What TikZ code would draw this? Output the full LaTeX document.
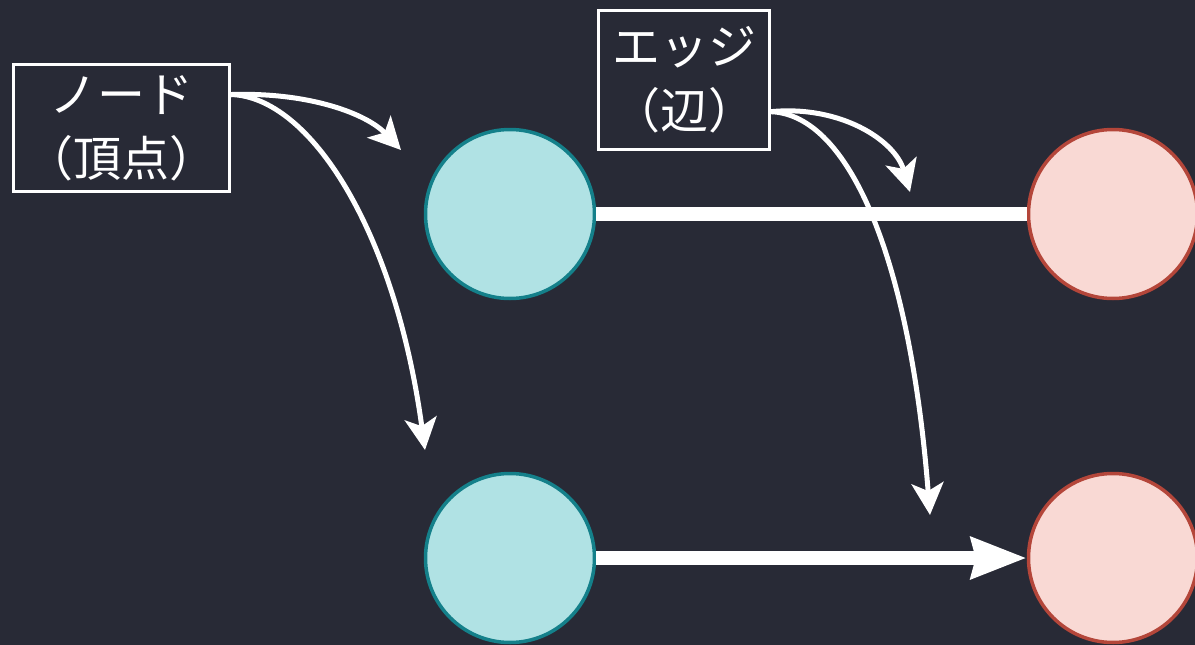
\documentclass[tikz,border=0pt]{standalone}
\usepackage{fontspec}
\setmainfont{Noto Sans CJK JP}
\usepackage{tikz}
\usetikzlibrary{arrows.meta}
\definecolor{bgdark}{HTML}{282A36}
\definecolor{tealfill}{HTML}{B0E2E4}
\definecolor{tealline}{HTML}{14808A}
\definecolor{pinkfill}{HTML}{F9D9D4}
\definecolor{pinkline}{HTML}{B4463A}
\begin{document}
\begin{tikzpicture}[x=1pt,y=-1pt,line cap=round,
  vtxA/.style={circle,fill=tealfill,draw=tealline,line width=3.5pt,minimum size=169pt,inner sep=0pt},
  vtxB/.style={circle,fill=pinkfill,draw=pinkline,line width=3.5pt,minimum size=169pt,inner sep=0pt},
  lbl/.style={draw=white,line width=3pt,text=white,align=center,inner sep=0pt,font=\fontsize{48}{64}\selectfont},
  ptr/.style={white,line width=5pt,-{Stealth[length=32pt,width=32pt,inset=8pt]}},
  link/.style={white,line width=14pt,line cap=butt}]

  \fill [bgdark] (0,0) rectangle (1195,645);
  \useasboundingbox (0,0) rectangle (1195,645);

  \node [vtxA] (a1) at (510,214) {};
  \node [vtxA] (a2) at (510,558) {};
  \node [vtxB] (b1) at (1113,214) {};
  \node [vtxB] (b2) at (1113,558) {};

  \draw [link] (a1) -- (b1);
  \draw [link,-{Stealth[length=55pt,width=40pt,inset=4pt]}] (a2) -- (b2);

  \node [lbl,minimum width=216pt,minimum height=127pt] (nodelbl) at (121.5,128) {ノード\\（頂点）};
  \node [lbl,minimum width=171pt,minimum height=139pt] (edgelbl) at (684,80) {エッジ\\（辺）};

  \coordinate (t1) at (401,150);
  \coordinate (t2) at (425,450);
  \coordinate (t3) at (910,192);
  \coordinate (t4) at (930,515);

  \draw [ptr] (nodelbl.17) .. controls (310,92) and (367,114) .. (t1);
  \draw [ptr] (nodelbl.17) .. controls (310,97) and (395,230) .. (t2);
  \draw [ptr] (edgelbl.-20) .. controls (840,105) and (895,140) .. (t3);
  \draw [ptr] (edgelbl.-20) .. controls (850,115) and (910,260) .. (t4);

\end{tikzpicture}
\end{document}
